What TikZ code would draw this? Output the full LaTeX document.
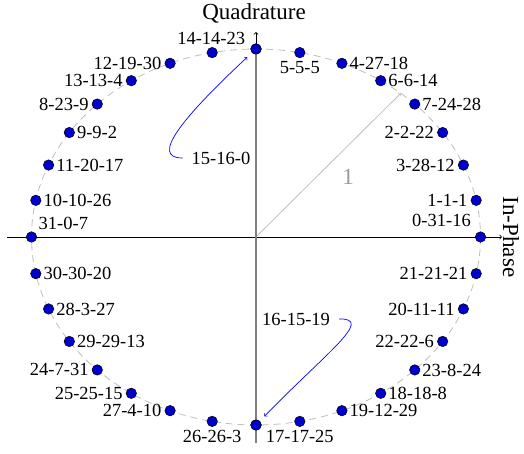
\documentclass[tikz,border=0pt]{standalone}
\usepackage{fontspec}
\setmainfont{Liberation Serif}
\usetikzlibrary{calc}
\definecolor{ptblue}{RGB}{0,0,205}
\definecolor{ringgray}{RGB}{190,190,190}
\definecolor{unitgray}{RGB}{190,190,190}
\definecolor{axisgray}{RGB}{128,128,128}
\begin{document}
\begin{tikzpicture}[x=1pt,y=-1pt,
  dot/.style={circle,draw=black,line width=0.5pt,fill=ptblue,minimum size=10.5pt,inner sep=0pt},
  lbl/.style={inner sep=0pt,font=\fontsize{18.5}{22}\selectfont},
  lblL/.style={lbl,anchor=east,xshift=-8.5pt},
  lblR/.style={lbl,anchor=west,xshift=7.5pt},
  lblB/.style={lbl,anchor=north,yshift=-8.6pt},
  lblA/.style={lbl,anchor=south,yshift=7.6pt},
  axlbl/.style={inner sep=0pt,font=\fontsize{23}{27}\selectfont},
  bluearrow/.style={draw=blue,line width=0.7pt,->,shorten >=6.5pt}]
\useasboundingbox (0,0) rectangle (524,454);
% ring
\draw[ringgray,line width=0.8pt,dash pattern=on 7pt off 5pt] (256,237) ellipse [x radius=224.5, y radius=188];
% axes
\coordinate (xl) at (7,237);
\coordinate (xr) at (502,237);
\coordinate (yb) at (256,443);
\coordinate (yt) at (256,32);
\coordinate (o) at (256,237);
\coordinate (u) at (401,93);
\draw[black,line width=0.8pt,->] (xl) -- (xr);
\draw[black,line width=0.8pt,->] (yb) -- (yt);
\draw[unitgray,line width=0.8pt,->] (o) -- (u);
\node[axlbl,text=axisgray!80] (one) at (348,177) {1};
% points
\foreach \k in {0,...,31}{
  \node[dot] (p\k) at ({256+224.5*cos(\k*11.25)},{237-188*sin(\k*11.25)}) {};
}
\draw[axisgray,line width=1.2pt] (yb) -- (p8.center);
\node[dot] at (p8) {};
\node[dot] at (p24) {};
% labels
\node[lbl,anchor=south east,xshift=-9.5pt,yshift=10pt] (t0) at (p0) {0-31-16};
\node[lblL] (t1) at (p1) {1-1-1};
\node[lblL] (t2) at (p2) {3-28-12};
\node[lblL] (t3) at (p3) {2-2-22};
\node[lblR] (t4) at (p4) {7-24-28};
\node[lblR] (t5) at (p5) {6-6-14};
\node[lblR] (t6) at (p6) {4-27-18};
\node[lblB] (t7) at (p7) {5-5-5};
\node[lbl,inner xsep=9pt] (t8) at (221,158) {15-16-0};
\node[lblA,xshift=-1pt] (t9) at (p9) {14-14-23};
\node[lblL] (t10) at (p10) {12-19-30};
\node[lblL] (t11) at (p11) {13-13-4};
\node[lblL] (t12) at (p12) {8-23-9};
\node[lblR] (t13) at (p13) {9-9-2};
\node[lblR] (t14) at (p14) {11-20-17};
\node[lblR] (t15) at (p15) {10-10-26};
\node[lbl,anchor=south west,xshift=7pt,yshift=7pt] (t16) at (p16) {31-0-7};
\node[lblR] (t17) at (p17) {30-30-20};
\node[lblR] (t18) at (p18) {28-3-27};
\node[lblR] (t19) at (p19) {29-29-13};
\node[lblL] (t20) at (p20) {24-7-31};
\node[lblL] (t21) at (p21) {25-25-15};
\node[lblL] (t22) at (p22) {27-4-10};
\node[lblB] (t23) at (p23) {26-26-3};
\node[lbl,inner xsep=9pt] (t24) at (296,319) {16-15-19};
\node[lblB] (t25) at (p25) {17-17-25};
\node[lblR] (t26) at (p26) {19-12-29};
\node[lblR] (t27) at (p27) {18-18-8};
\node[lblR] (t28) at (p28) {23-8-24};
\node[lblL] (t29) at (p29) {22-22-6};
\node[lblL] (t30) at (p30) {20-11-11};
\node[lblL] (t31) at (p31) {21-21-21};
% arrows from labels
\draw[bluearrow] (t8.west) .. controls (150,158) and (181,119) .. (p8);
\draw[bluearrow] (t24.east) .. controls (375,318) and (325.5,353.3) .. (p24);
% axis labels
\node[axlbl,anchor=base] (ql) at (254,19.5) {Quadrature};
\node[axlbl,rotate=-90] (il) at (511,237) {In-Phase};
\end{tikzpicture}
\end{document}
